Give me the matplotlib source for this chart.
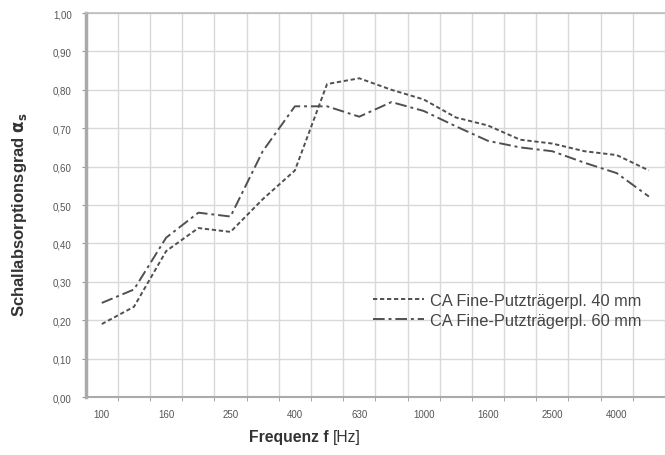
import numpy as np
import matplotlib
matplotlib.use('Agg')
import matplotlib.pyplot as plt

plt.rcParams['font.family'] = ['Liberation Sans', 'DejaVu Sans']

# Terzband-Frequenzen (Hz)
freqs = ['100', '125', '160', '200', '250', '315', '400', '500', '630', '800',
         '1000', '1250', '1600', '2000', '2500', '3150', '4000', '5000']
# Schallabsorptionsgrad
alpha_40mm = [0.19, 0.235, 0.38, 0.44, 0.43, 0.515, 0.59, 0.815, 0.83, 0.80,
              0.775, 0.728, 0.707, 0.67, 0.66, 0.64, 0.63, 0.59]
alpha_60mm = [0.245, 0.28, 0.415, 0.48, 0.47, 0.64, 0.757, 0.757, 0.73, 0.768,
              0.745, 0.705, 0.667, 0.65, 0.64, 0.61, 0.583, 0.522]
labels = ['CA Fine-Putzträgerpl. 40 mm', 'CA Fine-Putzträgerpl. 60 mm']

W, H = 665, 456
fig = plt.figure(figsize=(W / 100, H / 100), dpi=100)
left, right_edge, top, bottom = 85.7, 665, 14, 398
ax = fig.add_axes([left / W, 1 - bottom / H, (right_edge - left) / W, (bottom - top) / H])

x = np.arange(len(freqs))
line_col = '#505050'
ax.plot(x, alpha_40mm, color=line_col, lw=1.4, linestyle=(0, (2.2, 1.4)), label=labels[0])
ax.plot(x, alpha_60mm, color=line_col, lw=1.4, linestyle=(0, (6, 2, 1.5, 2)), label=labels[1])

cat_w = 32.6
ax.set_xlim(-0.5, -0.5 + (right_edge - left) / cat_w)
ax.set_ylim(0, 1.0)

# Gitter zwischen den Kategorien
ax.set_xticks(np.arange(len(freqs)) + 0.5, minor=True)
ax.set_xticks(x[::2])
ax.set_xticklabels(freqs[::2])
ax.set_yticks(np.arange(0, 1.01, 0.1))
ax.set_yticklabels([f'{v:.2f}'.replace('.', ',') for v in np.arange(0, 1.01, 0.1)])
ax.grid(True, which='minor', axis='x', color='#d9d9d9', lw=1.0)
ax.grid(True, which='major', axis='y', color='#d9d9d9', lw=1.0)

ax.tick_params(axis='x', which='major', length=0, labelsize=7, labelcolor='#555555', pad=9)
ax.tick_params(axis='x', which='minor', length=3, color='#999999', direction='out')
ax.tick_params(axis='y', which='major', length=3, color='#999999', labelsize=7,
               labelcolor='#555555', pad=7)

ax.spines['right'].set_visible(False)
ax.spines['left'].set_color('#aaaaaa')
ax.spines['left'].set_linewidth(2.5)
ax.spines['bottom'].set_color('#aaaaaa')
ax.spines['bottom'].set_linewidth(1.5)
ax.spines['top'].set_color('#bbbbbb')
ax.spines['top'].set_linewidth(1.2)

leg = fig.legend(loc='upper left', bbox_to_anchor=(373 / W, 1 - 294 / H),
                 frameon=False, fontsize=11.8, handlelength=3.1, handletextpad=0.4,
                 labelspacing=0.3, borderpad=0, borderaxespad=0)
for t in leg.get_texts():
    t.set_color('#444444')

fig.text(20 / W, 1 - 215 / H, r'Schallabsorptionsgrad $\mathbf{\alpha_s}$', rotation=90,
         ha='center', va='center', fontsize=12, fontweight='bold', color='#333333')
fig.text(333 / W, 1 - 438 / H, 'Frequenz f ', ha='right', va='center',
         fontsize=11.3, fontweight='bold', color='#333333')
fig.text(333 / W, 1 - 438 / H, '[Hz]', ha='left', va='center',
         fontsize=11.3, color='#333333')

fig.savefig('out.png', dpi=100)
